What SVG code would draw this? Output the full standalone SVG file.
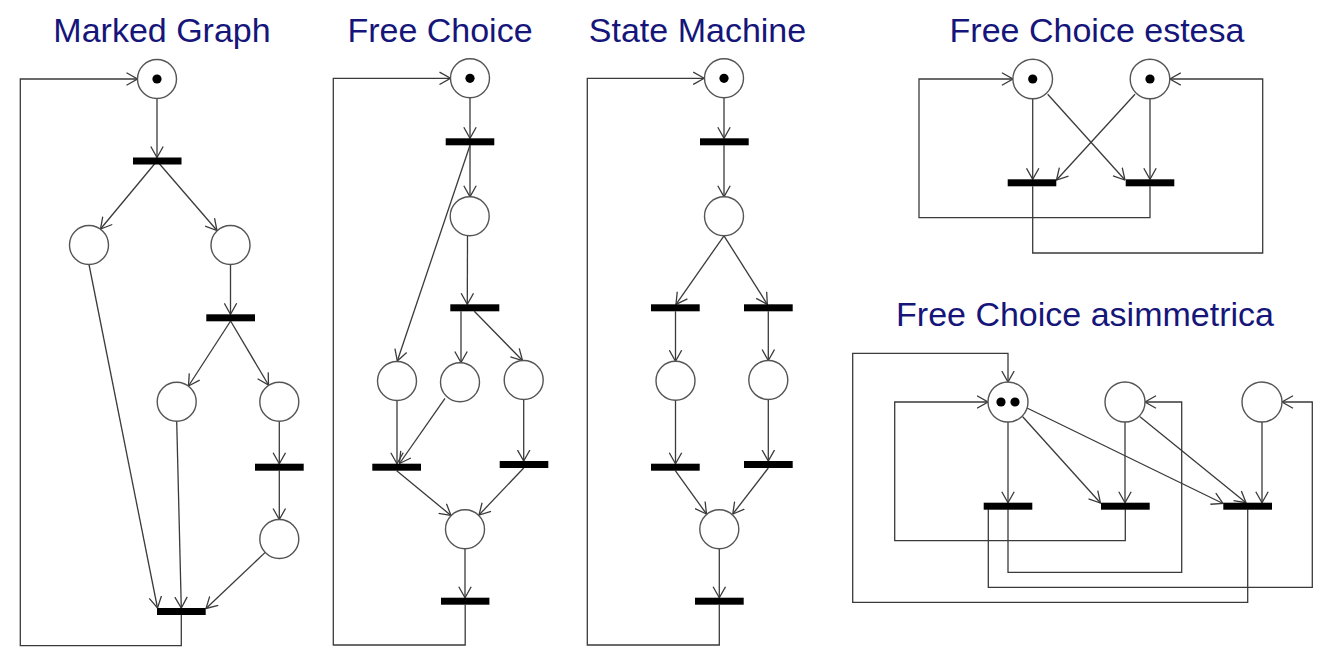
<svg xmlns="http://www.w3.org/2000/svg" width="1340" height="652" viewBox="0 0 1340 652">
<style>
.title{font-family:"Liberation Sans",Arial,sans-serif;font-size:34px;fill:#15157a;text-anchor:middle}
.pl{fill:#fff;stroke:#555;stroke-width:1.4}
.tk{fill:#000}
.tr{fill:#000}
.arc{fill:none;stroke:#3a3a3a;stroke-width:1.3;marker-end:url(#ah)}
.ln{fill:none;stroke:#3a3a3a;stroke-width:1.3}
</style>
<defs>
<marker id="ah" viewBox="0 0 12 14" refX="11.5" refY="7" markerWidth="12" markerHeight="14" markerUnits="userSpaceOnUse" orient="auto">
<path d="M0.5,0.8 L11.5,7 L0.5,13.2" fill="none" stroke="#3a3a3a" stroke-width="1.3"/>
</marker>
</defs>
<rect width="1340" height="652" fill="#fff"/>

<g id="titles">
<text class="title" x="162" y="42">Marked Graph</text>
<text class="title" x="440" y="42">Free Choice</text>
<text class="title" x="697.5" y="42">State Machine</text>
<text class="title" x="1097" y="42">Free Choice estesa</text>
<text class="title" x="1085" y="326">Free Choice asimmetrica</text>
</g>

<g id="connectors">
<!-- Marked Graph -->
<path class="arc" d="M157,98.5 L157,157.5"/>
<path class="arc" d="M157,161 L100.5,229"/>
<path class="arc" d="M157,161 L217,230.5"/>
<path class="arc" d="M230.5,264.5 L230.5,314.3"/>
<path class="arc" d="M230.6,321 L188.5,386"/>
<path class="arc" d="M230.6,321 L268.5,385"/>
<path class="arc" d="M279.3,421.2 L279.3,463.7"/>
<path class="arc" d="M279.3,470.7 L279.3,519.5"/>
<path class="arc" d="M89,264.5 L157.5,608"/>
<path class="arc" d="M176.7,421.2 L181.3,608"/>
<path class="arc" d="M265.2,552.4 L206,608.5"/>
<path class="arc" d="M181.3,615 L181.3,645.7 L20.3,645.7 L20.3,79 L137.5,79"/>
<!-- Free Choice -->
<path class="arc" d="M470,97.8 L470,138.3"/>
<path class="arc" d="M470,145.3 L470,196.8"/>
<path class="arc" d="M467.5,235.8 L467.3,304.3"/>
<path class="arc" d="M470,145.3 L397.3,361"/>
<path class="arc" d="M461,311.3 L461,362.5"/>
<path class="arc" d="M474.3,311.3 L522.5,360.5"/>
<path class="arc" d="M397,400.5 L397,463.7"/>
<path class="arc" d="M445,398.3 L399.5,463.5"/>
<path class="arc" d="M523.7,399.5 L523.7,461"/>
<path class="arc" d="M396.7,470.7 L451,515.5"/>
<path class="arc" d="M523.7,468 L479,515"/>
<path class="arc" d="M465,548.8 L465,597.7"/>
<path class="arc" d="M465.2,604.7 L465.2,645 L333.3,645 L333.3,78.3 L450.5,78.3"/>
<!-- State Machine -->
<path class="arc" d="M724,97.8 L724,138.3"/>
<path class="arc" d="M724,145.3 L724,196.8"/>
<path class="arc" d="M724,235.8 L676,304.3"/>
<path class="arc" d="M724,235.8 L767.3,304.3"/>
<path class="arc" d="M675.5,311.3 L675.5,361.2"/>
<path class="arc" d="M768.3,311.3 L768.3,360.5"/>
<path class="arc" d="M675.5,400.2 L675.5,463.7"/>
<path class="arc" d="M768.3,399.5 L768.3,461"/>
<path class="arc" d="M675.3,470.7 L706.5,514"/>
<path class="arc" d="M768.3,468 L732.8,514"/>
<path class="arc" d="M719.3,548.8 L719.3,597.7"/>
<path class="arc" d="M719.3,604.7 L719.3,645 L587.3,645 L587.3,78.3 L704.2,78.3"/>
<!-- Free Choice estesa -->
<path class="arc" d="M1032.7,98.8 L1032.7,179.3"/>
<path class="arc" d="M1150,98.8 L1150,179.3"/>
<path class="arc" d="M1047.7,94.3 L1125,180"/>
<path class="arc" d="M1135,94.3 L1056.5,180"/>
<path class="arc" d="M1150,186.3 L1150,217.7 L919,217.7 L919,79 L1012.9,79"/>
<path class="arc" d="M1032.7,186.3 L1032.7,253 L1262.7,253 L1262.7,79 L1169.8,79"/>
<!-- Free Choice asimmetrica -->
<path class="arc" d="M1008,422 L1008,502.7"/>
<path class="arc" d="M1125,422 L1125,502.7"/>
<path class="arc" d="M1262,422 L1262,502.7"/>
<path class="arc" d="M1022.7,416.7 L1100.5,503"/>
<path class="arc" d="M1027,408 L1223,503.5"/>
<path class="arc" d="M1140,416.7 L1246,502.7"/>
<path class="arc" d="M1247.7,509.3 L1247.7,602.3 L852.7,602.3 L852.7,353.3 L1008,353.3 L1008,382"/>
<path class="arc" d="M1125.3,509.3 L1125.3,540.7 L894.7,540.7 L894.7,402 L988,402"/>
<path class="arc" d="M1008,509.3 L1008,572.3 L1181.7,572.3 L1181.7,402 L1145,402"/>
<path class="arc" d="M988.3,509.3 L988.3,587.3 L1312.3,587.3 L1312.3,402 L1282,402"/>
</g>

<!-- Marked Graph nodes -->
<g id="mg_p0"><circle class="pl" cx="157" cy="79" r="19.5"/><circle class="tk" cx="157" cy="79" r="4.6"/></g>
<g id="mg_t1"><rect class="tr" x="133" y="157.5" width="48.5" height="7"/></g>
<g id="mg_p1"><circle class="pl" cx="89" cy="245" r="19.5"/></g>
<g id="mg_p2"><circle class="pl" cx="230.5" cy="245" r="19.5"/></g>
<g id="mg_t2"><rect class="tr" x="206.3" y="314.3" width="48.7" height="7"/></g>
<g id="mg_p3"><circle class="pl" cx="176.7" cy="401.7" r="19.5"/></g>
<g id="mg_p4"><circle class="pl" cx="279.3" cy="401.7" r="19.5"/></g>
<g id="mg_t3"><rect class="tr" x="255" y="463.7" width="48.7" height="7"/></g>
<g id="mg_p5"><circle class="pl" cx="279.3" cy="539" r="19.5"/></g>
<g id="mg_t4"><rect class="tr" x="157" y="608" width="48.7" height="7"/></g>

<!-- Free Choice nodes -->
<g id="fc_p0"><circle class="pl" cx="470" cy="78.3" r="19.5"/><circle class="tk" cx="470" cy="78.3" r="4.6"/></g>
<g id="fc_t1"><rect class="tr" x="445.7" y="138.3" width="48.6" height="7"/></g>
<g id="fc_p1"><circle class="pl" cx="469.7" cy="216.3" r="19.5"/></g>
<g id="fc_t2"><rect class="tr" x="450.3" y="304.3" width="49" height="7"/></g>
<g id="fc_p2"><circle class="pl" cx="397" cy="381" r="19.5"/></g>
<g id="fc_p3"><circle class="pl" cx="460" cy="382.3" r="19.5"/></g>
<g id="fc_p4"><circle class="pl" cx="523.7" cy="380" r="19.5"/></g>
<g id="fc_t3"><rect class="tr" x="372.3" y="463.7" width="48.7" height="7"/></g>
<g id="fc_t4"><rect class="tr" x="499.7" y="461" width="48.6" height="7"/></g>
<g id="fc_p5"><circle class="pl" cx="465" cy="529.3" r="19.5"/></g>
<g id="fc_t5"><rect class="tr" x="441" y="597.7" width="48.4" height="7"/></g>

<!-- State Machine nodes -->
<g id="sm_p0"><circle class="pl" cx="724" cy="78.3" r="19.5"/><circle class="tk" cx="724" cy="78.3" r="4.6"/></g>
<g id="sm_t1"><rect class="tr" x="700" y="138.3" width="48.7" height="7"/></g>
<g id="sm_p1"><circle class="pl" cx="724" cy="216.3" r="19.5"/></g>
<g id="sm_t2"><rect class="tr" x="651" y="304.3" width="48.7" height="7"/></g>
<g id="sm_t3"><rect class="tr" x="744" y="304.3" width="48.7" height="7"/></g>
<g id="sm_p2"><circle class="pl" cx="675.5" cy="380.7" r="19.5"/></g>
<g id="sm_p3"><circle class="pl" cx="768.3" cy="380" r="19.5"/></g>
<g id="sm_t4"><rect class="tr" x="651" y="463.7" width="48.7" height="7"/></g>
<g id="sm_t5"><rect class="tr" x="744" y="461" width="48.7" height="7"/></g>
<g id="sm_p4"><circle class="pl" cx="719.3" cy="529.3" r="19.5"/></g>
<g id="sm_t6"><rect class="tr" x="695" y="597.7" width="48.7" height="7"/></g>

<!-- Free Choice estesa nodes -->
<g id="fe_pa"><circle class="pl" cx="1032.7" cy="79" r="19.8"/><circle class="tk" cx="1032.7" cy="79" r="4.6"/></g>
<g id="fe_pb"><circle class="pl" cx="1150" cy="79" r="19.8"/><circle class="tk" cx="1150" cy="79" r="4.6"/></g>
<g id="fe_ta"><rect class="tr" x="1007.7" y="179.3" width="48.6" height="7"/></g>
<g id="fe_tb"><rect class="tr" x="1125.7" y="179.3" width="48.6" height="7"/></g>

<!-- Free Choice asimmetrica nodes -->
<g id="fa_pa"><circle class="pl" cx="1008" cy="402" r="20"/><circle class="tk" cx="1001" cy="402" r="4.6"/><circle class="tk" cx="1015" cy="402" r="4.6"/></g>
<g id="fa_pb"><circle class="pl" cx="1125" cy="402" r="20"/></g>
<g id="fa_pc"><circle class="pl" cx="1262" cy="402" r="20"/></g>
<g id="fa_ta"><rect class="tr" x="983.7" y="502.7" width="48.6" height="7"/></g>
<g id="fa_tb"><rect class="tr" x="1101" y="502.7" width="48.7" height="7"/></g>
<g id="fa_tc"><rect class="tr" x="1223.3" y="502.7" width="48.7" height="7"/></g>
</svg>
